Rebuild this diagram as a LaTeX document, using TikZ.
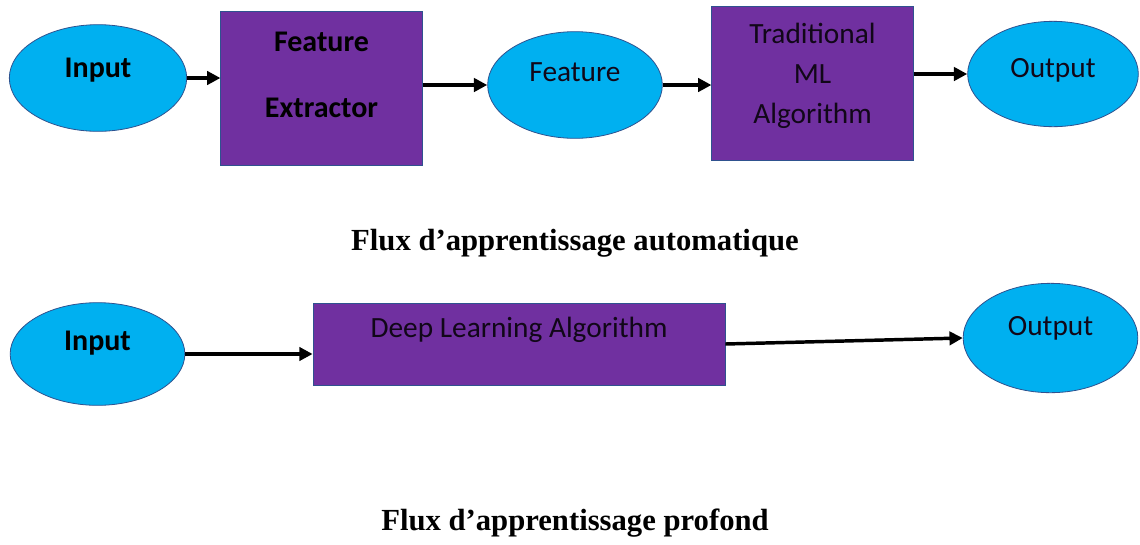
\documentclass[tikz,border=0pt]{standalone}
\usepackage{fontspec}
\setmainfont{Liberation Serif}
\newfontfamily\calibfont{Carlito}
\usetikzlibrary{shapes.geometric,arrows.meta}

\definecolor{flowcyan}{HTML}{00B0F0}
\definecolor{flowpurple}{HTML}{7030A0}
\definecolor{flowedge}{HTML}{2F528F}

\begin{document}
\begin{tikzpicture}[x=0.75pt,y=-0.75pt,
    every node/.style={font=\calibfont\fontsize{22}{30}\selectfont},
    blob/.style={ellipse, draw=flowedge, fill=flowcyan, line width=0.6pt, inner sep=0pt},
    block/.style={rectangle, draw=flowedge, fill=flowpurple, line width=0.6pt, inner sep=0pt},
    txt/.style={align=center, inner sep=0pt, text=black!85!flowpurple},
    strong/.style={txt, text=black, font=\calibfont\bfseries\fontsize{22.5}{30}\selectfont},
    flow/.style={-{Triangle[length=10pt,width=10pt]}, line width=2.6pt},
    caption/.style={inner sep=0pt, font=\rmfamily\bfseries\fontsize{23}{26}\selectfont}]

    \useasboundingbox (0,0) rectangle (1140,544);

    % Machine learning flow
    \node[blob, minimum width=133pt, minimum height=80pt] (in1) at (98,78) {};
    \node[block, minimum width=151pt, minimum height=115pt] (fe) at (321.5,88.5) {};
    \node[blob, minimum width=131pt, minimum height=80pt] (ft) at (575,85) {};
    \node[block, minimum width=151pt, minimum height=115pt] (ml) at (812.5,83.5) {};
    \node[blob, minimum width=128pt, minimum height=79pt] (out1) at (1053,74) {};

    \node[strong] (in1-t) at (98,70) {Input};
    \node[strong] (fe-t) at (321.5,75) {Feature\\[19.5pt]Extractor};
    \node[txt] (ft-t) at (575,72) {Feature};
    \node[txt] (ml-t) at (812.5,76) {Traditional\\ML\\Algorithm};
    \node[txt] (out1-t) at (1053,70) {Output};

    \draw[flow] (in1.east) -- (in1.east -| fe.west);
    \draw[flow] (ft.west -| fe.east) -- (ft.west);
    \draw[flow] (ft.east) -- (ft.east -| ml.west);
    \draw[flow] (out1.west -| ml.east) -- (out1.west);

    \node[caption] (cap1) at (575,243) {Flux d’apprentissage automatique};

    % Deep learning flow
    \node[blob, minimum width=131pt, minimum height=77pt] (in2) at (97.5,354) {};
    \node[block, minimum width=309pt, minimum height=61.5pt] (dl) at (519,344) {};
    \node[blob, minimum width=131pt, minimum height=82pt] (out2) at (1050.5,338) {};

    \node[strong] (in2-t) at (97.5,343) {Input};
    \node[txt] (dl-t) at (519,330) {Deep Learning Algorithm};
    \node[txt] (out2-t) at (1050.5,328) {Output};

    \draw[flow] (in2.east) -- (in2.east -| dl.west);
    \draw[flow] (dl.east) -- (out2.west);

    \node[caption] (cap2) at (575,523) {Flux d’apprentissage profond};

\end{tikzpicture}
\end{document}
